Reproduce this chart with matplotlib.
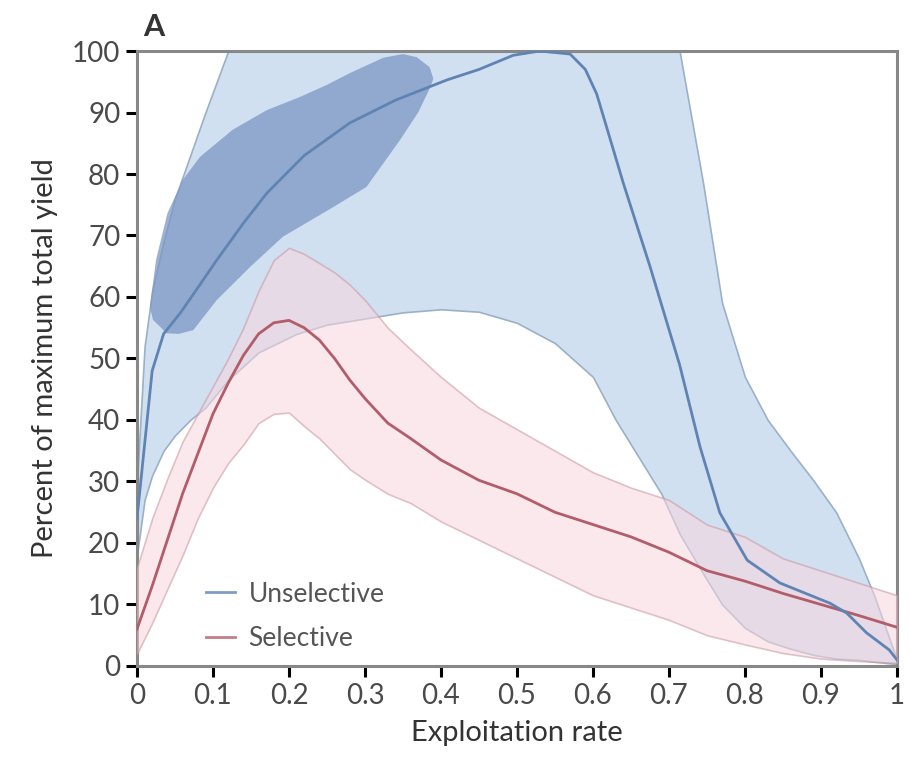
import matplotlib
matplotlib.use("Agg")
import matplotlib.pyplot as plt

plt.rcParams['font.family'] = ['Lato', 'DejaVu Sans']

# unselective mean line
ux = [0, 0.01, 0.02, 0.035, 0.057, 0.08, 0.105, 0.14, 0.171, 0.22, 0.28, 0.34, 0.408, 0.45,
      0.495, 0.53, 0.57, 0.59, 0.605, 0.64, 0.675, 0.714, 0.741, 0.767, 0.803, 0.846, 0.88,
      0.912, 0.934, 0.96, 0.99, 1.0]
uy = [24, 36, 48, 54, 57.4, 61.5, 66, 72, 76.9, 83, 88.3, 92, 95.3, 97,
      99.3, 100, 99.5, 97, 93, 78.5, 65, 49, 35.6, 24.9, 17.2, 13.5, 11.8,
      10.2, 8.6, 5.4, 2.6, 1]

# unselective band (light blue)
bx = [0, 0.01, 0.02, 0.035, 0.05, 0.07, 0.09, 0.12, 0.16, 0.21, 0.25, 0.3, 0.35, 0.4, 0.45,
      0.5, 0.55, 0.6, 0.63, 0.66, 0.69, 0.714, 0.745, 0.77, 0.8, 0.83, 0.86, 0.89, 0.92,
      0.95, 0.97, 1.0]
b_hi = [30, 52, 61, 69, 76, 83, 90, 100, 100, 100, 100, 100, 100, 100, 100,
        100, 100, 100, 100, 100, 100, 100, 78.5, 59, 47, 40, 35, 30.2, 25,
        17.5, 11.5, 1]
b_lo = [18, 27, 31, 35, 37.5, 40, 42, 46.5, 51, 54, 55.5, 56.5, 57.5, 58, 57.6,
        55.8, 52.5, 47, 40, 34, 28, 21.5, 15, 10, 6.2, 4, 2.8, 1.8, 1.2,
        1, 0.7, 0.3]

# dark blue cloud
cloud_x = [0.021, 0.017, 0.025, 0.04, 0.06, 0.083, 0.126, 0.171, 0.214, 0.25, 0.28, 0.324,
           0.35, 0.368, 0.385, 0.39, 0.386, 0.37, 0.346, 0.302, 0.258, 0.192, 0.149, 0.105,
           0.074, 0.055, 0.039]
cloud_y = [56.3, 58.4, 66, 73.6, 79, 82.8, 87.2, 90.4, 92.5, 94.5, 96.4, 98.9,
           99.5, 99, 97.4, 95.5, 94.1, 90, 85.5, 77.9, 74.6, 69.8, 64.9, 59.5,
           54.6, 54, 54.1]

# selective mean and band
rx = [0, 0.02, 0.04, 0.06, 0.08, 0.1, 0.12, 0.14, 0.16, 0.18, 0.2, 0.22, 0.24, 0.26, 0.28,
      0.3, 0.33, 0.36, 0.4, 0.45, 0.5, 0.55, 0.6, 0.65, 0.7, 0.75, 0.8, 0.85, 0.9, 0.95, 1.0]
r_mean = [6, 13, 20.5, 28, 34.5, 41, 46, 50.5, 54, 55.8, 56.2, 55, 53, 50, 46.5,
          43.5, 39.5, 37, 33.5, 30.2, 28, 25, 23, 21, 18.5, 15.5, 13.8, 11.8, 10, 8.2, 6.3]
r_hi = [16, 24, 30.5, 36.5, 41, 45.5, 50, 55, 61, 66, 68, 67, 65.5, 64, 62,
        59.5, 55, 51.5, 47, 42, 38.5, 35, 31.5, 29, 27, 23, 21, 17.5, 15.5, 13.5, 11.5]
r_lo = [2, 7, 12.5, 18, 24, 29, 33, 36, 39.5, 41, 41.2, 39, 37, 34.5, 32,
        30.3, 28, 26.5, 23.5, 20.5, 17.5, 14.5, 11.5, 9.5, 7.5, 5, 3.5, 2.1, 1.2, 0.8, 0.5]

xticks = [0, 0.1, 0.2, 0.3, 0.4, 0.5, 0.6, 0.7, 0.8, 0.9, 1]
xticklabels = ['0', '0.1', '0.2', '0.3', '0.4', '0.5', '0.6', '0.7', '0.8', '0.9', '1']
yticks = [0, 10, 20, 30, 40, 50, 60, 70, 80, 90, 100]

fig = plt.figure(figsize=(9.09, 7.67), dpi=100)
ax = fig.add_axes([0.1507, 0.1317, 0.836, 0.8018])

ax.fill_between(bx, b_lo, b_hi, facecolor='#c9dbef', edgecolor='#8da6c0', linewidth=1.2, alpha=0.85, zorder=1)
ax.fill(cloud_x, cloud_y, facecolor='#7d97c4', edgecolor='none', alpha=0.75, zorder=2)
ax.fill_between(rx, r_lo, r_hi, facecolor='#f7d6dd', edgecolor='#c9959e', linewidth=1.2, alpha=0.55, zorder=3)

ax.plot(ux, uy, color='#5f84b4', linewidth=2, zorder=5, label='Unselective')
ax.plot(rx, r_mean, color='#b35c6a', linewidth=2, zorder=4, label='Selective')

ax.set_xlim(0, 1)
ax.set_ylim(0, 100)
ax.set_xticks(xticks)
ax.set_xticklabels(xticklabels)
ax.set_yticks(yticks)

for s in ax.spines.values():
    s.set_color('#888888')
    s.set_linewidth(2.2)
ax.tick_params(direction='out', length=8, width=2.2, color='black', labelsize=20,
               labelcolor='#4a4a4a', pad=4)

ax.set_xlabel('Exploitation rate', fontsize=21, color='#333333', labelpad=8)
ax.set_ylabel('Percent of maximum total yield', fontsize=21, color='#333333', labelpad=10)

leg = ax.legend(loc='lower left', bbox_to_anchor=(0.06, -0.015), frameon=False, fontsize=19,
                handlelength=1.1, handletextpad=0.5, labelspacing=0.75)
for t in leg.get_texts():
    t.set_color('#555555')
for h in leg.get_lines():
    h.set_alpha(0.8)

fig.text(0.158, 0.965, 'A', fontsize=22, fontweight='bold', color='#333333', va='center')

fig.savefig('out.png', dpi=100)
